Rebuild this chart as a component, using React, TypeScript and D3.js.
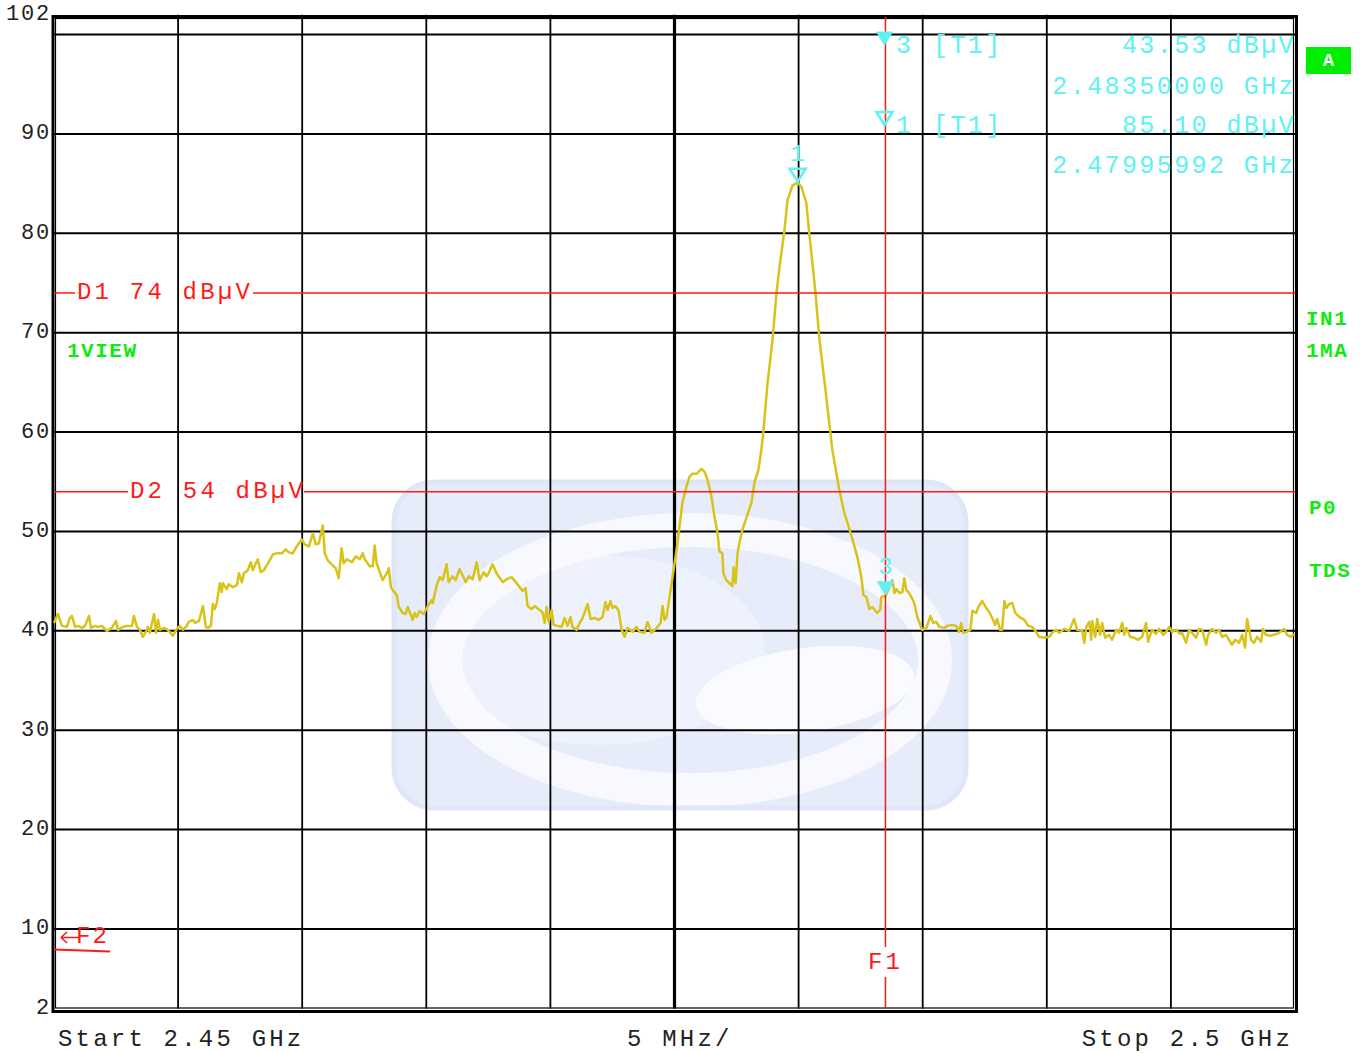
import React from "react";
import * as d3 from "d3";

// ---------- data ----------
const startGHz = 2.45;
const spanMHz = 50;
const yTickLabels = [102, 90, 80, 70, 60, 50, 40, 30, 20, 10, 2];
const gridLevels = [100, 90, 80, 70, 60, 50, 40, 30, 20, 10];
const freqDivsMHz = [0, 5, 10, 15, 20, 25, 30, 35, 40, 45, 50];
const displayLines = [
  { name: "D1", level: 74, label: "D1 74 dB\u00b5V" },
  { name: "D2", level: 54, label: "D2 54 dB\u00b5V" },
];
const markers = [
  { id: 3, freqMHz: 33.5, level: 43.53, filled: true, freqText: "2.48350000 GHz", levelText: "43.53 dB\u00b5V" },
  { id: 1, freqMHz: 29.96, level: 85.1, filled: false, freqText: "2.47995992 GHz", levelText: "85.10 dB\u00b5V" },
];
const f1MHz = 33.5;
const rightLabels = ["IN1", "1MA", "P0", "TDS"];

// trace: [MHz offset from start, dBµV]
const trace: [number, number][] = [
  [0, 40.8], [0.16, 41.7], [0.32, 40.5], [0.52, 40.4], [0.64, 41.3], [0.72, 41.5], [0.85, 40.4], [0.97, 40.5], [1.13, 40.3], [1.25, 40.5],
  [1.41, 41.5], [1.49, 40.3], [1.65, 40.5], [1.77, 40.4], [1.93, 40.5], [2.13, 40.0], [2.33, 40.3], [2.5, 41.0], [2.58, 40.1], [2.78, 40.4],
  [2.94, 40.5], [3.14, 40.5], [3.22, 41.5], [3.34, 40.4], [3.46, 40.1], [3.58, 39.4], [3.7, 39.9], [3.78, 40.4], [3.86, 39.8], [4.03, 41.7],
  [4.11, 39.8], [4.19, 41.1], [4.27, 40.1], [4.43, 40.3], [4.59, 40.1], [4.79, 39.5], [4.95, 40.2], [5.07, 40.5], [5.19, 40.1], [5.35, 40.5],
  [5.43, 40.9], [5.6, 41.1], [5.68, 40.8], [5.84, 41.0], [6.0, 42.5], [6.12, 40.4], [6.2, 40.3], [6.32, 40.5], [6.4, 42.7], [6.48, 42.2],
  [6.56, 42.8], [6.68, 44.8], [6.76, 43.9], [6.8, 44.8], [6.96, 44.2], [7.04, 44.7], [7.21, 44.4], [7.37, 44.6], [7.45, 45.8], [7.57, 44.9],
  [7.65, 45.8], [7.81, 46.1], [7.93, 46.9], [8.01, 46.1], [8.13, 46.8], [8.21, 47.2], [8.33, 45.9], [8.45, 46.1], [8.62, 46.8], [8.82, 47.7],
  [8.98, 47.8], [9.18, 47.8], [9.34, 48.2], [9.46, 47.9], [9.62, 47.8], [9.78, 48.5], [9.98, 49.2], [10.1, 48.7], [10.27, 48.5], [10.43, 49.8],
  [10.55, 48.7], [10.67, 48.8], [10.83, 50.6], [10.91, 47.8], [11.03, 47.1], [11.23, 46.6], [11.35, 46.3], [11.47, 45.3], [11.59, 48.3], [11.67, 46.8],
  [11.8, 47.2], [12.0, 46.9], [12.16, 47.5], [12.32, 47.2], [12.44, 47.8], [12.52, 47.2], [12.72, 46.5], [12.84, 46.5], [12.92, 48.6], [13.0, 46.8],
  [13.24, 45.1], [13.41, 45.8], [13.49, 46.3], [13.57, 44.4], [13.65, 44.1], [13.81, 43.6], [13.89, 42.4], [14.05, 41.8], [14.17, 41.7], [14.25, 42.4],
  [14.41, 41.4], [14.45, 41.1], [14.53, 41.8], [14.61, 41.4], [14.73, 42.0], [14.9, 41.7], [15.06, 42.5], [15.22, 43.1], [15.26, 42.8], [15.42, 44.6],
  [15.54, 45.4], [15.66, 45.1], [15.82, 46.7], [15.9, 44.9], [16.06, 45.5], [16.18, 45.1], [16.34, 46.2], [16.46, 45.6], [16.59, 44.9], [16.71, 45.5],
  [16.87, 45.2], [17.03, 46.9], [17.15, 45.1], [17.31, 45.9], [17.43, 45.5], [17.51, 45.8], [17.67, 46.7], [17.83, 45.8], [18.08, 44.9], [18.24, 45.2],
  [18.44, 45.4], [18.64, 44.8], [18.88, 44.0], [19.0, 44.3], [19.08, 42.5], [19.24, 42.2], [19.36, 42.5], [19.57, 42.1], [19.69, 41.8], [19.77, 40.8],
  [19.85, 42.4], [19.93, 40.9], [20.05, 42.1], [20.13, 40.6], [20.29, 40.5], [20.45, 40.4], [20.57, 41.3], [20.69, 40.5], [20.81, 41.4], [20.89, 40.4],
  [21.06, 40.1], [21.18, 40.8], [21.3, 41.3], [21.5, 42.7], [21.62, 41.2], [21.78, 41.3], [21.94, 41.1], [22.1, 41.4], [22.22, 42.9], [22.3, 42.1],
  [22.42, 43.0], [22.5, 42.3], [22.62, 42.5], [22.75, 42.0], [22.87, 40.1], [22.99, 39.4], [23.11, 40.3], [23.31, 39.9], [23.47, 40.4], [23.59, 39.9],
  [23.79, 39.8], [23.91, 40.9], [24.07, 39.8], [24.28, 40.3], [24.44, 40.8], [24.52, 42.5], [24.6, 41.1], [24.68, 41.4], [24.8, 43.4], [24.92, 45.4],
  [25.08, 48.1], [25.2, 50.5], [25.32, 52.9], [25.48, 54.5], [25.6, 55.5], [25.72, 55.8], [25.89, 55.8], [26.09, 56.3], [26.21, 56.0], [26.33, 55.2],
  [26.49, 53.5], [26.61, 51.5], [26.73, 49.9], [26.81, 48.0], [26.93, 47.8], [26.97, 45.8], [27.09, 45.1], [27.21, 44.8], [27.33, 44.5], [27.38, 46.4],
  [27.46, 44.8], [27.54, 47.8], [27.62, 48.9], [27.74, 50.2], [27.9, 51.4], [28.1, 52.9], [28.22, 54.9], [28.38, 56.2], [28.5, 58.2], [28.58, 60.0],
  [28.74, 64.7], [28.95, 69.3], [29.11, 74.0], [29.23, 76.6], [29.43, 80.3], [29.55, 83.3], [29.75, 84.8], [29.96, 85.1], [30.11, 84.7], [30.31, 83.1],
  [30.43, 80.0], [30.6, 76.0], [30.68, 74.0], [30.84, 69.3], [31.08, 64.3], [31.36, 58.2], [31.64, 54.2], [31.84, 51.9], [32.05, 50.2], [32.17, 49.2],
  [32.37, 47.4], [32.53, 45.4], [32.61, 43.6], [32.73, 43.4], [32.85, 42.2], [32.97, 42.4], [33.17, 41.8], [33.29, 42.1], [33.33, 43.4], [33.5, 43.5],
  [33.66, 44.4], [33.78, 45.1], [33.86, 43.8], [33.94, 44.2], [34.06, 43.8], [34.18, 43.9], [34.26, 45.3], [34.34, 44.1], [34.46, 43.8], [34.66, 42.8],
  [34.78, 41.4], [34.98, 40.1], [35.15, 40.3], [35.31, 41.5], [35.43, 40.8], [35.55, 40.9], [35.67, 40.4], [35.87, 40.3], [35.99, 40.5], [36.19, 40.6],
  [36.35, 40.5], [36.47, 39.9], [36.55, 40.8], [36.63, 39.8], [36.76, 39.9], [36.92, 40.1], [37.0, 42.0], [37.16, 41.8], [37.24, 42.4], [37.4, 43.0],
  [37.56, 42.3], [37.68, 41.9], [37.8, 41.3], [37.92, 40.6], [38.0, 41.2], [38.12, 40.1], [38.2, 40.1], [38.29, 43.0], [38.37, 42.3], [38.49, 42.7],
  [38.61, 42.8], [38.73, 41.8], [38.89, 41.4], [39.09, 41.1], [39.25, 40.5], [39.41, 40.4], [39.57, 39.9], [39.69, 39.4], [39.9, 39.3], [40.1, 39.4],
  [40.22, 39.8], [40.38, 40.1], [40.5, 39.8], [40.7, 40.2], [40.9, 40.0], [41.1, 41.2], [41.22, 40.1], [41.43, 40.0], [41.51, 38.8], [41.59, 40.4],
  [41.71, 40.9], [41.79, 39.1], [41.83, 41.0], [41.95, 39.4], [42.03, 41.2], [42.15, 39.6], [42.23, 40.8], [42.35, 39.3], [42.51, 39.6], [42.63, 39.1],
  [42.79, 40.1], [42.91, 39.8], [43.04, 40.8], [43.12, 39.6], [43.2, 40.3], [43.36, 39.4], [43.52, 39.3], [43.68, 39.1], [43.84, 39.4], [44.0, 40.8],
  [44.08, 38.9], [44.24, 40.1], [44.4, 39.7], [44.52, 40.2], [44.69, 39.6], [44.81, 39.9], [44.93, 40.4], [45.05, 39.9], [45.21, 40.1], [45.37, 39.7],
  [45.45, 39.8], [45.61, 38.8], [45.73, 40.1], [45.85, 39.8], [46.01, 39.3], [46.14, 40.2], [46.26, 40.1], [46.42, 38.6], [46.5, 39.6], [46.66, 40.2],
  [46.82, 39.8], [46.94, 40.1], [47.06, 39.4], [47.22, 39.6], [47.34, 39.1], [47.46, 38.6], [47.59, 39.1], [47.75, 38.8], [47.87, 39.6], [47.99, 38.3],
  [48.07, 41.2], [48.23, 39.1], [48.35, 38.8], [48.47, 39.4], [48.63, 38.9], [48.71, 40.2], [48.83, 39.6], [48.99, 39.5], [49.15, 39.6], [49.36, 39.8],
  [49.56, 40.2], [49.68, 39.6], [49.84, 39.4], [49.92, 39.6], [50.0, 39.6],
];

// ---------- styles ----------
const MONO = "'Liberation Mono', 'Courier New', 'DejaVu Sans Mono', monospace";
const CYAN = "#5ef2f2";
const RED = "#ff1a1a";
const GREEN = "#10ea10";
const TRACE = "#d8c31a";

export default function App() {
  const W = 1367;
  const H = 1053;
  const x = d3.scaleLinear().domain([0, spanMHz]).range([54, 1295]);
  const y = d3.scaleLinear().domain([2, 102]).range([1008.5, 14.7]);
  const line = d3
    .line<[number, number]>()
    .x((d) => x(d[0]))
    .y((d) => y(d[1]));

  const textStyle = { fontFamily: MONO };

  const triangle = (cx: number, tipY: number, w: number, h: number) =>
    `M${cx - w / 2},${tipY - h} L${cx + w / 2},${tipY - h} L${cx},${tipY} Z`;

  const legendRows = [
    { base: 53, freqBase: 94 },
    { base: 133, freqBase: 173 },
  ];

  return (
    <svg
      width={W}
      height={H}
      viewBox={`0 0 ${W} ${H}`}
      style={{ position: "absolute", left: 0, top: 0, background: "#fff" }}
    >
      <rect x={0} y={0} width={W} height={H} fill="#fff" />

      {/* watermark */}
      <g>
        <rect x={392} y={480} width={576} height={330} rx={42} fill="#e6ecfa" />
        <ellipse cx={600} cy={650} rx={165} ry={95} fill="#eef2fc" />
        <ellipse cx={690} cy={660} rx={245} ry={130} fill="none" stroke="#f9fbff" strokeWidth={34} opacity={0.9} />
        <ellipse cx={805} cy={690} rx={110} ry={42} fill="#fafbff" transform="rotate(-8 805 690)" />
        <rect x={394} y={482} width={572} height={326} rx={40} fill="none" stroke="#dfe6f8" strokeWidth={5} />
      </g>

      {/* grid */}
      <g stroke="#000" fill="none">
        {gridLevels.map((v) => (
          <line key={"h" + v} x1={x(0)} x2={x(spanMHz)} y1={y(v)} y2={y(v)} strokeWidth={2} />
        ))}
        {freqDivsMHz.slice(1, -1).map((f) => (
          <line
            key={"v" + f}
            x1={x(f)}
            x2={x(f)}
            y1={y(102)}
            y2={y(2)}
            strokeWidth={f === 25 ? 3.2 : 1.8}
          />
        ))}
        {/* frame */}
        <rect x={53} y={16.5} width={1243.5} height={995} strokeWidth={3} />
        <rect x={55.5} y={18.5} width={1238} height={989.5} strokeWidth={1.2} />
      </g>

      {/* y tick labels */}
      <g style={textStyle} fontSize={22} letterSpacing={1.8} fill="#222">
        {yTickLabels.map((v) => (
          <text key={"t" + v} x={51} y={y(v)} textAnchor="end" dominantBaseline="central">
            {v}
          </text>
        ))}
      </g>

      {/* trace */}
      <path d={line(trace) || ""} fill="none" stroke={TRACE} strokeWidth={2.5} strokeLinejoin="round" />

      {/* display lines */}
      <g style={textStyle} fontSize={24} letterSpacing={3.2} fill={RED}>
        {displayLines.map((d, i) => {
          const tx = i === 0 ? 77 : 130;
          const tw = i === 0 ? 174 : 172;
          return (
            <g key={d.name}>
              <line x1={x(0)} x2={tx - 2} y1={y(d.level)} y2={y(d.level)} stroke={RED} strokeWidth={1.5} />
              <line x1={tx + tw + 2} x2={x(spanMHz)} y1={y(d.level)} y2={y(d.level)} stroke={RED} strokeWidth={1.5} />
              <text x={tx} y={y(d.level)} dominantBaseline="central">
                {d.label}
              </text>
            </g>
          );
        })}
      </g>

      {/* F1 line */}
      <g>
        <line x1={x(f1MHz)} x2={x(f1MHz)} y1={17} y2={947} stroke={RED} strokeWidth={1.5} />
        <line x1={x(f1MHz)} x2={x(f1MHz)} y1={977} y2={1008} stroke={RED} strokeWidth={1.5} />
        <text
          x={x(f1MHz)}
          y={962}
          textAnchor="middle"
          dominantBaseline="central"
          fill={RED}
          fontSize={24}
          letterSpacing={3}
          style={textStyle}
        >
          F1
        </text>
      </g>

      {/* F2 */}
      <g>
        <path d="M61,937.5 L80,937.5 M61,937.5 L67,932 M61,937.5 L67,943" stroke={RED} strokeWidth={1.6} fill="none" />
        <text x={76} y={936} dominantBaseline="central" fill={RED} fontSize={24} letterSpacing={2} style={textStyle}>
          F2
        </text>
        <path d="M54,949.5 Q80,950.5 110,951.5" stroke={RED} strokeWidth={2} fill="none" />
      </g>

      {/* markers on trace */}
      {markers.map((m) => {
        const cx = x(m.freqMHz);
        const cy = y(m.level);
        return (
          <g key={"m" + m.id}>
            <path
              d={triangle(cx, cy - 1, 16, 13)}
              fill={m.filled ? CYAN : "none"}
              stroke={CYAN}
              strokeWidth={m.filled ? 1 : 2.5}
            />
            <text
              x={cx}
              y={cy - 22}
              textAnchor="middle"
              fill={CYAN}
              fontSize={24}
              style={textStyle}
            >
              {m.id}
            </text>
          </g>
        );
      })}

      {/* marker legend */}
      {markers.map((m, i) => {
        const r = legendRows[i];
        const cx = x(f1MHz) - 1;
        return (
          <g key={"leg" + m.id} style={textStyle} fontSize={25} letterSpacing={2.4} fill={CYAN}>
            <path
              d={triangle(cx, r.base - 8, 16, 13)}
              fill={m.filled ? CYAN : "none"}
              stroke={CYAN}
              strokeWidth={m.filled ? 1 : 2.5}
            />
            <text x={896} y={r.base}>
              {m.id}
            </text>
            <text x={933} y={r.base}>
              [T1]
            </text>
            <text x={1296} y={r.base} textAnchor="end">
              {m.levelText}
            </text>
            <text x={1296} y={r.freqBase} textAnchor="end">
              {m.freqText}
            </text>
          </g>
        );
      })}

      {/* green indicators */}
      <g>
        <rect x={1306} y={47} width={45} height={27} fill="#00ee00" />
        <text
          x={1328.5}
          y={61}
          textAnchor="middle"
          dominantBaseline="central"
          fill="#fff"
          fontWeight="bold"
          fontSize={19}
          style={textStyle}
        >
          A
        </text>
        <g style={textStyle} fontSize={21} fontWeight="bold" fill={GREEN} letterSpacing={1.5}>
          <text x={67} y={357}>1VIEW</text>
          <text x={1306} y={325}>{rightLabels[0]}</text>
          <text x={1306} y={357}>{rightLabels[1]}</text>
          <text x={1309} y={514}>{rightLabels[2]}</text>
          <text x={1309} y={577}>{rightLabels[3]}</text>
        </g>
      </g>

      {/* bottom labels */}
      <g style={textStyle} fontSize={24} letterSpacing={3.2} fill="#222">
        <text x={58} y={1046}>{`Start ${startGHz} GHz`}</text>
        <text x={627} y={1046}>{`${spanMHz / 10} MHz/`}</text>
        <text x={1293} y={1046} textAnchor="end">{`Stop ${(startGHz + spanMHz / 1000).toFixed(1)} GHz`}</text>
      </g>
    </svg>
  );
}
